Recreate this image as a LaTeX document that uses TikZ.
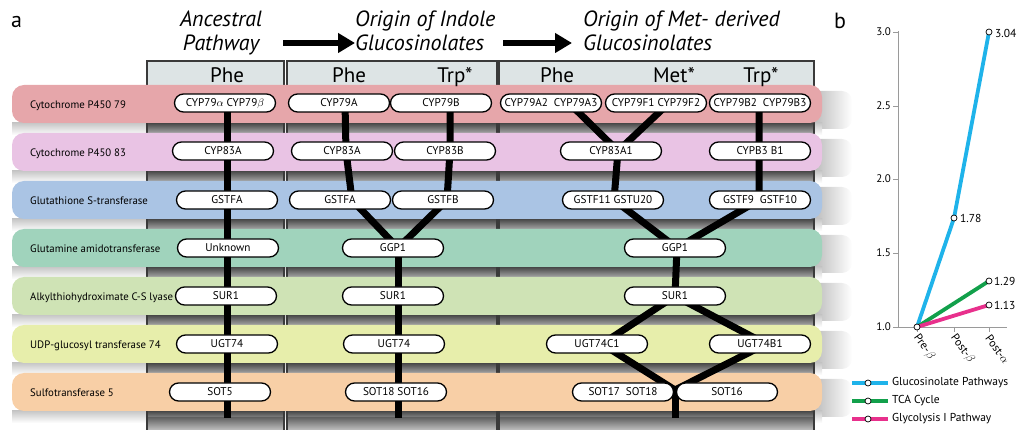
\documentclass[tikz,border=0pt]{standalone}
\usepackage{fontspec}
\setmainfont{PT Sans}
\usetikzlibrary{shapes.misc,arrows.meta,backgrounds}

\definecolor{rosa}{HTML}{E6A6AA}
\definecolor{lilla}{HTML}{E9C3E4}
\definecolor{azzurro}{HTML}{AAC4E4}
\definecolor{verdeacqua}{HTML}{A0D3BC}
\definecolor{verdechiaro}{HTML}{CFE3B5}
\definecolor{giallino}{HTML}{E7EEAB}
\definecolor{pesca}{HTML}{F8CFA6}
\definecolor{colfondo}{HTML}{DDE4E5}
\definecolor{colbordo}{HTML}{3A3A3A}
\definecolor{glucblu}{HTML}{1FB3EA}
\definecolor{tcaverde}{HTML}{12A04B}
\definecolor{glirosa}{HTML}{E8308C}
\definecolor{assegrigio}{HTML}{9A9A9A}

\begin{document}
\begin{tikzpicture}[x=1pt, y=-1pt,
  fascia/.style={rounded corners=12pt},
  etich/.style={anchor=base west, inner sep=0pt, font=\fontsize{10.8}{12}\selectfont},
  enz/.style={draw, line width=1.3pt, fill=white, rounded rectangle, minimum width=101pt,
    minimum height=18pt, inner sep=0pt, text height=7.8pt, text depth=0pt,
    font=\fontsize{11.2}{13}\selectfont},
  via/.style={line width=7pt},
  colonna/.style={draw=colbordo, line width=1.5pt},
  titolo/.style={inner sep=0pt, font=\fontsize{22}{24}\selectfont\itshape},
  substr/.style={anchor=base, inner sep=0pt, font=\fontsize{21}{24}\selectfont},
  freccia/.style={line width=6pt, -{Triangle[length=17pt, width=19pt]}},
  asse/.style={draw=assegrigio, line width=0.8pt},
  serie/.style={line width=3.8pt},
  dot/.style={circle, draw, fill=white, line width=0.7pt, inner sep=0pt, minimum size=6pt},
  valore/.style={anchor=west, inner sep=0pt, font=\fontsize{11.5}{13}\selectfont}]

  \useasboundingbox (0,0) rectangle (1021,430);

  % lettere dei pannelli
  \node[anchor=base west, inner sep=0pt, font=\fontsize{22}{24}\selectfont] (pa) at (11,28) {a};
  \node[anchor=base west, inner sep=0pt, font=\fontsize{22}{24}\selectfont] (pb) at (834,29) {b};

  % titoli e frecce
  \node[titolo, anchor=north, align=center] (tanc) at (221,11) {Ancestral\\Pathway};
  \node[titolo, anchor=north west, align=left] (tind) at (355,11) {Origin of Indole\\Glucosinolates};
  \node[titolo, anchor=north west, align=left] (tmet) at (583,11) {Origin of Met- derived\\Glucosinolates};
  \coordinate (f1a) at (283,43);
  \coordinate (f1b) at (355,43);
  \coordinate (f2a) at (503,43);
  \coordinate (f2b) at (572,43);
  \draw[freccia] (f1a) -- (f1b);
  \draw[freccia] (f2a) -- (f2b);

  % colonne, ombre e fasce
  \begin{scope}[on background layer]
    \fill[colfondo] (147,61) rectangle (284,431);
    \fill[colfondo] (287,61) rectangle (497,431);
    \fill[colfondo] (499,61) rectangle (814,431);
    \foreach \y in {91,139,187,235,283,331,379}
      \shade[rounded corners=10pt, left color=black!32, right color=white] (806,\y) rectangle (852,\y+38);
    \foreach \y in {123,171,219,267,315,363,411} {
      \shade[top color=black!22, bottom color=white] (12,\y) rectangle (822,\y+12);
      \shade[top color=black!72, bottom color=black!28] (147,\y) rectangle (284,\y+12);
      \shade[top color=black!72, bottom color=black!28] (287,\y) rectangle (497,\y+12);
      \shade[top color=black!72, bottom color=black!28] (499,\y) rectangle (814,\y+12);
    }
    \shade[top color=black!60, bottom color=black!22] (147,418) rectangle (284,431);
    \shade[top color=black!60, bottom color=black!22] (287,418) rectangle (497,431);
    \shade[top color=black!60, bottom color=black!22] (499,418) rectangle (814,431);
    \draw[colonna] (147,431) -- (147,61) -- (284,61) -- (284,431);
    \draw[colonna] (287,431) -- (287,61) -- (497,61) -- (497,431);
    \draw[colonna] (499,431) -- (499,61) -- (814,61) -- (814,431);
    \fill[rosa, fascia] (12,85) rectangle (822,123);
    \fill[lilla, fascia] (12,133) rectangle (822,171);
    \fill[azzurro, fascia] (12,181) rectangle (822,219);
    \fill[verdeacqua, fascia] (12,229) rectangle (822,267);
    \fill[verdechiaro, fascia] (12,277) rectangle (822,315);
    \fill[giallino, fascia] (12,325) rectangle (822,363);
    \fill[pesca, fascia] (12,373) rectangle (822,411);
  \end{scope}

  % substrati
  \node[substr] (s1) at (227,83) {Phe};
  \node[substr] (s2) at (349,83) {Phe};
  \node[substr] (s3) at (455,83) {Trp*};
  \node[substr] (s4) at (557,83) {Phe};
  \node[substr] (s5) at (674,83) {Met*};
  \node[substr] (s6) at (761,83) {Trp*};

  % famiglie enzimatiche
  \node[etich] (l1) at (30,109) {Cytochrome P450 79};
  \node[etich] (l2) at (30,157) {Cytochrome P450 83};
  \node[etich] (l3) at (30,205) {Glutathione S-transferase};
  \node[etich] (l4) at (30,253) {Glutamine amidotransferase};
  \node[etich] (l5) at (30,301) {Alkylthiohydroximate C-S lyase};
  \node[etich] (l6) at (30,349) {UDP-glucosyl transferase 74};
  \node[etich] (l7) at (30,397) {Sulfotransferase 5};

  % via ancestrale
  \node[enz] (n1a) at (225,103) {CYP79$\alpha$ CYP79$\beta$};
  \node[enz] (n1b) at (223,151) {CYP83A};
  \node[enz] (n1c) at (227,200) {GSTFA};
  \node[enz] (n1d) at (228,248) {Unknown};
  \node[enz] (n1e) at (226,296) {SUR1};
  \node[enz] (n1f) at (227,344) {UGT74};
  \node[enz] (n1g) at (220,392) {SOT5};

  % glucosinolati indolici
  \node[enz] (n2a) at (339,103) {CYP79A};
  \node[enz] (n2b) at (441,103) {CYP79B};
  \node[enz] (n2c) at (342,151) {CYP83A};
  \node[enz] (n2d) at (445,151) {CYP83B};
  \node[enz] (n2e) at (340,200) {GSTFA};
  \node[enz] (n2f) at (443,200) {GSTFB};
  \node[enz] (n2g) at (393,248) {GGP1};
  \node[enz] (n2h) at (393,296) {SUR1};
  \node[enz] (n2i) at (394,344) {UGT74};
  \node[enz] (n2j) at (396,392) {SOT18 SOT16};

  % glucosinolati da Met
  \node[enz] (n3a) at (551,103) {CYP79A2\ \ CYP79A3};
  \node[enz] (n3b) at (656,103) {CYP79F1 CYP79F2};
  \node[enz] (n3c) at (760,103) {CYP79B2\ \ CYP79B3};
  \node[enz] (n3d) at (611,151) {CYP83A1};
  \node[enz] (n3e) at (760,151) {CYPB3 B1};
  \node[enz] (n3f) at (613,200) {GSTF11 GSTU20};
  \node[enz] (n3g) at (760,200) {GSTF9\ \ GSTF10};
  \node[enz] (n3h) at (675,248) {GGP1};
  \node[enz] (n3i) at (675,296) {SUR1};
  \node[enz] (n3j) at (597,344) {UGT74C1};
  \node[enz] (n3k) at (760,344) {UGT74B1};
  \node[enz] (n3l) at (623,392) {SOT17\ \ SOT18};
  \node[enz] (n3m) at (727,392) {SOT16};

  % collegamenti
  \begin{scope}[on background layer]
    \coordinate (e1) at (227,418);
    \coordinate (e2) at (398,418);
    \coordinate (g3) at (675,390);
    \coordinate (e3) at (675,418);
    \draw[via] (n1a.center -| e1) -- (e1);
    \draw[via] ([xshift=6pt]n2a.center) -- ([xshift=4pt]n2c.center) -- ([xshift=12pt]n2e.center) -- ([xshift=5pt]n2g.center);
    \draw[via] ([xshift=9pt]n2b.center) -- ([xshift=5pt]n2d.center) -- ([xshift=4pt]n2f.center) -- ([xshift=5pt]n2g.center);
    \draw[via] (n2g.center -| e2) -- (e2);
    \draw[via] ([xshift=18pt]n3a.center) -- ([xshift=7pt]n3d.center) -- ([xshift=1pt]n3f.center) -- ([xshift=2pt]n3h.center);
    \draw[via] ([xshift=13pt]n3b.center) -- ([xshift=7pt]n3d.center);
    \draw[via] ([xshift=-1pt]n3c.center) -- ([xshift=-1pt]n3g.center) -- ([xshift=2pt]n3h.center);
    \draw[via] ([xshift=2pt]n3h.center) -- (n3i.center) -- ([xshift=5pt]n3j.center) -- (g3) -- ([xshift=6pt]n3k.center) -- (n3i.center);
    \draw[via] (g3) -- (e3);
  \end{scope}

  % pannello b: assi
  \draw[asse] (898,31) -- (898,327) -- (1007,327);
  \foreach \v/\y [count=\i] in {1.0/327, 1.5/253, 2.0/179, 2.5/106, 3.0/32} {
    \draw[asse] (893,\y) -- (898,\y);
    \node[anchor=east, inner sep=0pt, font=\fontsize{11}{13}\selectfont] (ty\i) at (891,\y) {\v};
  }
  \foreach \x/\t [count=\i] in {917/Pre-$\beta$, 954/Post-$\beta$, 989/Post-$\alpha$} {
    \draw[asse] (\x,327) -- (\x,332);
    \node[rotate=-54, anchor=west, inner sep=0pt, font=\fontsize{11.5}{13}\selectfont] (tx\i) at (\x-1,336) {\t};
  }

  % pannello b: serie
  \coordinate (p0) at (917,327);
  \coordinate (p1) at (954,218);
  \coordinate (p2) at (989,32);
  \coordinate (p3) at (989,281);
  \coordinate (p4) at (989,305);
  \draw[serie, glucblu] (p0) -- (p1) -- (p2);
  \draw[serie, tcaverde] (p0) -- (p3);
  \draw[serie, glirosa] (p0) -- (p4);
  \node[dot] (d0) at (p0) {};
  \node[dot] (d1) at (p1) {};
  \node[dot] (d2) at (p2) {};
  \node[dot] (d3) at (p3) {};
  \node[dot] (d4) at (p4) {};
  \node[valore] (v1) at (960,218) {1.78};
  \node[valore] (v2) at (995,33) {3.04};
  \node[valore] (v3) at (994,281) {1.29};
  \node[valore] (v4) at (994,305) {1.13};

  % legenda
  \draw[serie, glucblu] (852,383) -- (888,383);
  \draw[serie, tcaverde] (852,401) -- (888,401);
  \draw[serie, glirosa] (852,419) -- (888,419);
  \node[dot] (g1) at (868,383) {};
  \node[dot] (g2) at (868,401) {};
  \node[dot] (g3) at (868,419) {};
  \node[valore] (gt1) at (892,383) {Glucosinolate Pathways};
  \node[valore] (gt2) at (892,401) {TCA Cycle};
  \node[valore] (gt3) at (892,419) {Glycolysis I Pathway};
\end{tikzpicture}
\end{document}
